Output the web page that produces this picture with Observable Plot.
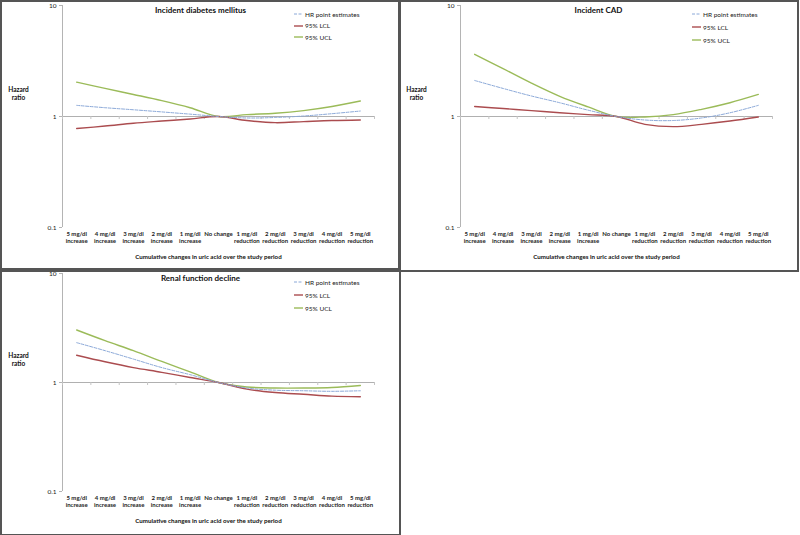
<!DOCTYPE html>
<html><head><meta charset="utf-8">
<script src="https://cdn.jsdelivr.net/npm/d3@7"></script>
<script src="https://cdn.jsdelivr.net/npm/@observablehq/plot@0.6"></script>
<style>
body{margin:0;background:#fff;font-family:Lato,"Open Sans",sans-serif;}
#root{position:relative;width:800px;height:535px;overflow:hidden;}
.panel{position:absolute;box-sizing:border-box;border:2px solid #555;}
.plot{position:absolute;}
.legend{position:absolute;font-size:6.5px;color:#222;font-family:Lato,sans-serif;}
.legend .item{display:flex;align-items:center;position:absolute;white-space:nowrap;}
.legend svg{margin-right:2px;}
</style></head><body><div id="root"></div>
<script>
const categories = [
  "5 mg/dl\nincrease","4 mg/dl\nincrease","3 mg/dl\nincrease","2 mg/dl\nincrease","1 mg/dl\nincrease",
  "No change",
  "1 mg/dl\nreduction","2 mg/dl\nreduction","3 mg/dl\nreduction","4 mg/dl\nreduction","5 mg/dl\nreduction"
];
const seriesNames = ["HR point estimates","95% LCL","95% UCL"];
const yTicks = [0.1, 1, 10];
const xTitle = "Cumulative changes in uric acid over the study period";
const yTitle = "Hazard\nratio";

const diabetesTitle = "Incident diabetes mellitus";
const diabetesHR  = [1.26,1.20,1.15,1.10,1.05,1.00,0.97,0.98,1.01,1.06,1.12];
const diabetesLCL = [0.78,0.82,0.87,0.91,0.95,1.00,0.92,0.88,0.90,0.92,0.93];
const diabetesUCL = [2.04,1.79,1.58,1.39,1.20,1.00,1.04,1.07,1.13,1.23,1.38];

const cadTitle = "Incident CAD";
const cadHR  = [2.11,1.79,1.53,1.33,1.14,1.00,0.93,0.92,0.97,1.08,1.26];
const cadLCL = [1.23,1.18,1.13,1.08,1.04,1.00,0.85,0.81,0.85,0.91,0.99];
const cadUCL = [3.63,2.70,2.00,1.52,1.22,1.00,0.99,1.04,1.16,1.33,1.58];

const renalTitle = "Renal function decline";
const renalHR  = [2.32,1.96,1.64,1.37,1.18,1.00,0.89,0.85,0.84,0.83,0.84];
const renalLCL = [1.78,1.55,1.37,1.24,1.11,1.00,0.87,0.81,0.78,0.75,0.74];
const renalUCL = [3.03,2.42,1.96,1.56,1.25,1.00,0.91,0.89,0.89,0.90,0.94];

const colors = {"HR point estimates":"#8aa8d8","95% LCL":"#ab4c4f","95% UCL":"#9bbb59"};
const dashes = {"HR point estimates":"3,1.5","95% LCL":null,"95% UCL":null};
const widths = {"HR point estimates":1,"95% LCL":1.4,"95% UCL":1.4};

const root = document.getElementById("root");
const FONT = "Lato, 'Open Sans', sans-serif";

function makePanel(title, hr, lcl, ucl, left, top, height, legendStep) {
  const box = document.createElement("div");
  box.className = "panel";
  Object.assign(box.style, {left: left + "px", top: top + "px", width: "401px", height: (height + 2) + "px"});
  root.appendChild(box);

  const sets = [hr, lcl, ucl];
  const boundaries = d3.range(categories.length + 1).map(i => i - 0.5);
  const lines = [2, 1, 0].map(s => {
    const name = seriesNames[s];
    const rows = sets[s].map((v, i) => ({i, v}));
    return Plot.line(rows, {x: "i", y: "v", stroke: colors[name], strokeWidth: widths[name],
      strokeDasharray: dashes[name], curve: "catmull-rom"});
  });

  const chart = Plot.plot({
    width: 400, height,
    marginLeft: 62, marginRight: 26, marginTop: 5, marginBottom: 43,
    style: {fontFamily: FONT, color: "#222", background: "transparent", overflow: "visible"},
    x: {type: "linear", domain: [-0.5, categories.length - 0.5]},
    y: {type: "log", domain: [0.1, 10]},
    marks: [
      Plot.ruleX([-0.5], {stroke: "#b4b4b4", strokeWidth: 1}),
      Plot.axisY({ticks: yTicks, tickFormat: d => String(d), tickSize: 3, tickPadding: 3,
        stroke: "#b4b4b4", fontSize: 6.5, label: null}),
      Plot.ruleY([1], {stroke: "#b0b0b0", strokeWidth: 1}),
      Plot.ruleX(boundaries, {y1: 1, y2: 1, insetBottom: -3, stroke: "#c4c4c4"}),
      Plot.axisX({ticks: d3.range(categories.length), tickFormat: i => categories[i], tickSize: 0,
        tickPadding: 4, fontSize: 6, fontWeight: "bold", lineHeight: 1.15, label: null}),
      ...lines,
      Plot.text([title], {frameAnchor: "top", dx: -18, dy: 5, fontSize: 8, fontWeight: "bold", lineAnchor: "middle", fill: "#111"}),
      Plot.text([xTitle], {frameAnchor: "bottom", dx: -10, dy: 30, fontSize: 6.2, fontWeight: "bold", lineAnchor: "middle", fill: "#111"}),
      Plot.text([yTitle], {frameAnchor: "left", dx: -44, dy: -23, fontSize: 6.5, fontWeight: "bold", textAnchor: "middle", lineAnchor: "middle", lineHeight: 1.25, fill: "#111"})
    ]
  });
  chart.classList.add("plot");
  chart.style.left = left + "px";
  chart.style.top = top + "px";
  root.appendChild(chart);

  const leg = document.createElement("div");
  leg.className = "legend";
  leg.style.left = (left + 294) + "px";
  leg.style.top = top + "px";
  seriesNames.forEach((name, k) => {
    const item = document.createElement("div");
    item.className = "item";
    item.style.top = (14 + k * legendStep - 4) + "px";
    item.style.height = "8px";
    const dash = dashes[name] ? `stroke-dasharray="${dashes[name]}"` : "";
    item.innerHTML = `<svg width="9" height="4"><line x1="0" x2="9" y1="2" y2="2" stroke="${colors[name]}" stroke-width="${widths[name]}" ${dash}/></svg><span>${name}</span>`;
    leg.appendChild(item);
  });
  root.appendChild(leg);
}

makePanel(diabetesTitle, diabetesHR, diabetesLCL, diabetesUCL, 0, 0, 270, 11.5);
makePanel(cadTitle, cadHR, cadLCL, cadUCL, 398, 0, 270, 13);
makePanel(renalTitle, renalHR, renalLCL, renalUCL, 0, 268, 266, 13);
</script></body></html>
